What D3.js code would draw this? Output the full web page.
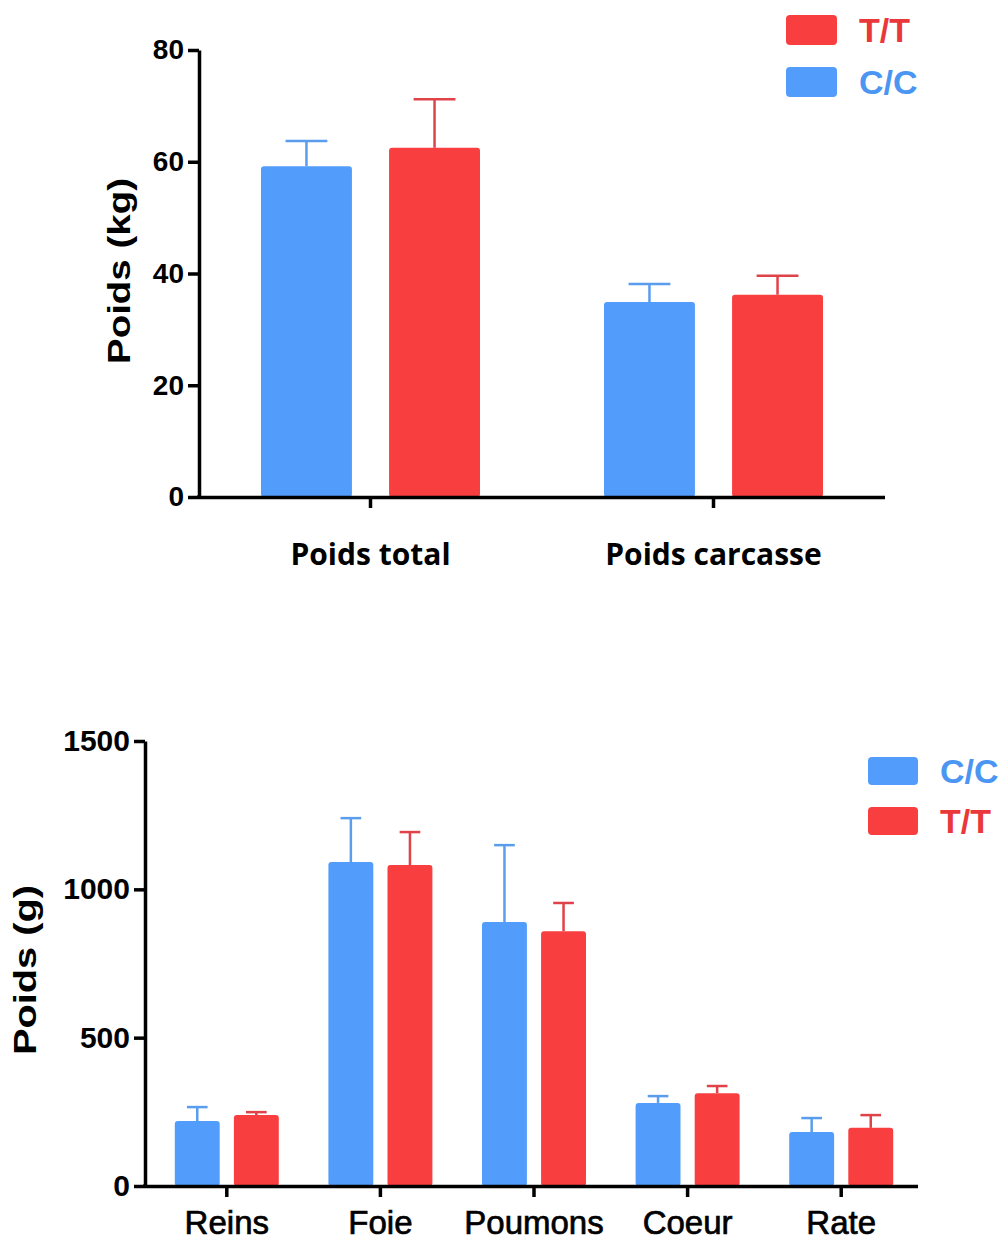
<!DOCTYPE html>
<html>
<head>
<meta charset="utf-8">
<script src="https://cdn.jsdelivr.net/npm/d3@7"></script>
<style>
  body { margin: 0; background: #fff; }
  svg { display: block; }
  .tick text { font-family: "Liberation Sans", Arial, sans-serif; font-weight: bold; fill: #000; }
</style>
</head>
<body>
<script>
// top chart: body weights (kg)
const topCats = ['Poids total', 'Poids carcasse']
const topSeries = ['C/C', 'T/T']
const topMeans = { 'C/C': [59.2, 34.9], 'T/T': [62.5, 36.2] }
const topErr = { 'C/C': [4.5, 3.2], 'T/T': [8.7, 3.4] }
const topTicks = [0, 20, 40, 60, 80]
const topLegend = ['T/T', 'C/C']

// bottom chart: organ weights (g)
const botCats = ['Reins', 'Foie', 'Poumons', 'Coeur', 'Rate']
const botSeries = ['C/C', 'T/T']
const botMeans = { 'C/C': [219, 1092, 890, 280, 182], 'T/T': [239, 1082, 859, 313, 196] }
const botErr = { 'C/C': [47, 148, 259, 23, 47], 'T/T': [10, 111, 95, 24, 43] }
const botTicks = [0, 500, 1000, 1500]
const botLegend = ['C/C', 'T/T']

const fill = { 'C/C': '#529dfb', 'T/T': '#f93e40' }
const errColor = { 'C/C': '#5a9ded', 'T/T': '#df4248' }
const textColor = { 'C/C': '#4b96f2', 'T/T': '#ea373a' }

const svg = d3.select('body').append('svg').attr('width', 1003).attr('height', 1240)

const drawChart = opts => {
  const { cats, series, means, errs, ticks, yMax, left, right, bandLeft, top, bottom, tickFont,
    barInner, capFrac, yLabel, yLabelX, yLabelY, yLabelLen, xFont, xLabelY, legend, legX, legY, legGap, legW, legH } = opts
  const g = svg.append('g')

  const x = d3.scaleBand().domain(cats).range([bandLeft, right])
  const y = d3.scaleLinear().domain([0, yMax]).range([bottom, top])
  const inner = d3.scaleBand().domain(series)
    .range([-barInner.total / 2, barInner.total / 2]).paddingInner(barInner.pad)

  // bars + error bars (upper only)
  series.forEach(s => {
    const bw = inner.bandwidth()
    const grp = g.append('g')
    const rows = cats.map((c, i) => ({ c, v: means[s][i], e: errs[s][i] }))
    grp.selectAll('rect').data(rows).join('rect')
      .attr('x', d => x(d.c) + x.bandwidth() / 2 + inner(s))
      .attr('y', d => y(d.v))
      .attr('width', bw)
      .attr('height', d => y(0) - y(d.v))
      .attr('rx', 3)
      .attr('fill', fill[s])
    const cx = d => x(d.c) + x.bandwidth() / 2 + inner(s) + bw / 2
    grp.selectAll('line.stem').data(rows).join('line').attr('class', 'stem')
      .attr('x1', cx).attr('x2', cx)
      .attr('y1', d => y(d.v)).attr('y2', d => y(d.v + d.e))
      .attr('stroke', errColor[s]).attr('stroke-width', 2.5)
    grp.selectAll('line.cap').data(rows).join('line').attr('class', 'cap')
      .attr('x1', d => cx(d) - bw * capFrac / 2).attr('x2', d => cx(d) + bw * capFrac / 2)
      .attr('y1', d => y(d.v + d.e)).attr('y2', d => y(d.v + d.e))
      .attr('stroke', errColor[s]).attr('stroke-width', 2.5)
  })

  // axes
  const yAxis = g.append('g').attr('transform', `translate(${left},0)`)
    .call(d3.axisLeft(y).tickValues(ticks).tickFormat(d3.format('d')).tickSize(11).tickSizeOuter(0).tickPadding(4))
  yAxis.selectAll('text').style('font-size', tickFont)
  g.append('g').attr('transform', `translate(0,${bottom})`)
    .call(d3.axisBottom(x).tickSize(11).tickSizeOuter(0).tickFormat(''))
    .select('.domain').attr('d', `M${left},0.5H${right}`)
  g.selectAll('.domain').attr('stroke', '#000').attr('stroke-width', 3.5)
  g.selectAll('.tick line').attr('stroke', '#000').attr('stroke-width', 3.5)
  // close the corner between the two axes
  g.append('line').attr('x1', left - 1.75).attr('x2', left + 2).attr('y1', bottom).attr('y2', bottom)
    .attr('stroke', '#000').attr('stroke-width', 3.5)

  // category labels
  g.selectAll('text.cat').data(cats).join('text').attr('class', 'cat')
    .attr('x', d => x(d) + x.bandwidth() / 2)
    .attr('y', xLabelY)
    .attr('text-anchor', 'middle')
    .style('font-family', xFont.family)
    .style('font-weight', xFont.weight)
    .style('font-size', xFont.size)
    .attr('stroke', xFont.stroke ? '#000' : 'none')
    .attr('stroke-width', xFont.stroke || 0)
    .text(d => d)

  // y label
  g.append('text')
    .attr('transform', `translate(${yLabelX},${yLabelY}) rotate(-90)`)
    .attr('text-anchor', 'middle')
    .attr('textLength', yLabelLen).attr('lengthAdjust', 'spacingAndGlyphs')
    .style('font-family', '"Liberation Sans", Arial, sans-serif')
    .style('font-weight', 'bold').style('font-size', '32px')
    .text(yLabel)

  // legend
  const leg = g.selectAll('g.leg').data(legend).join('g').attr('class', 'leg')
    .attr('transform', (d, i) => `translate(${legX},${legY + i * legGap})`)
  leg.append('rect').attr('width', legW).attr('height', legH).attr('rx', 4).attr('fill', d => fill[d])
  leg.append('text').attr('x', legW + 22).attr('y', legH / 2 + 12)
    .style('font-family', '"Liberation Sans", Arial, sans-serif')
    .style('font-weight', 'bold').style('font-size', '34px')
    .attr('fill', d => textColor[d])
    .text(d => d)
}

drawChart({
  cats: topCats, series: topSeries, means: topMeans, errs: topErr, ticks: topTicks, yMax: 80,
  left: 199, bandLeft: 199, right: 885, top: 50, bottom: 497, tickFont: '28px',
  barInner: { total: 219, pad: 0.29 }, capFrac: 0.46,
  yLabel: 'Poids (kg)', yLabelX: 130, yLabelY: 271, yLabelLen: 186,
  xFont: { family: '"Open Sans", "Noto Sans", sans-serif', weight: 'bold', size: '30px' }, xLabelY: 565,
  legend: topLegend, legX: 786, legY: 15, legGap: 52, legW: 51, legH: 30
})

drawChart({
  cats: botCats, series: botSeries, means: botMeans, errs: botErr, ticks: botTicks, yMax: 1500,
  left: 145, bandLeft: 150, right: 918, top: 741, bottom: 1186, tickFont: '30px',
  barInner: { total: 104, pad: 0.24 }, capFrac: 0.46,
  yLabel: 'Poids (g)', yLabelX: 36, yLabelY: 970, yLabelLen: 170,
  xFont: { family: '"Liberation Sans", Arial, sans-serif', weight: 'normal', size: '33px', stroke: 0.7 }, xLabelY: 1234,
  legend: botLegend, legX: 868, legY: 757, legGap: 50, legW: 50, legH: 28
})
</script>
</body>
</html>
